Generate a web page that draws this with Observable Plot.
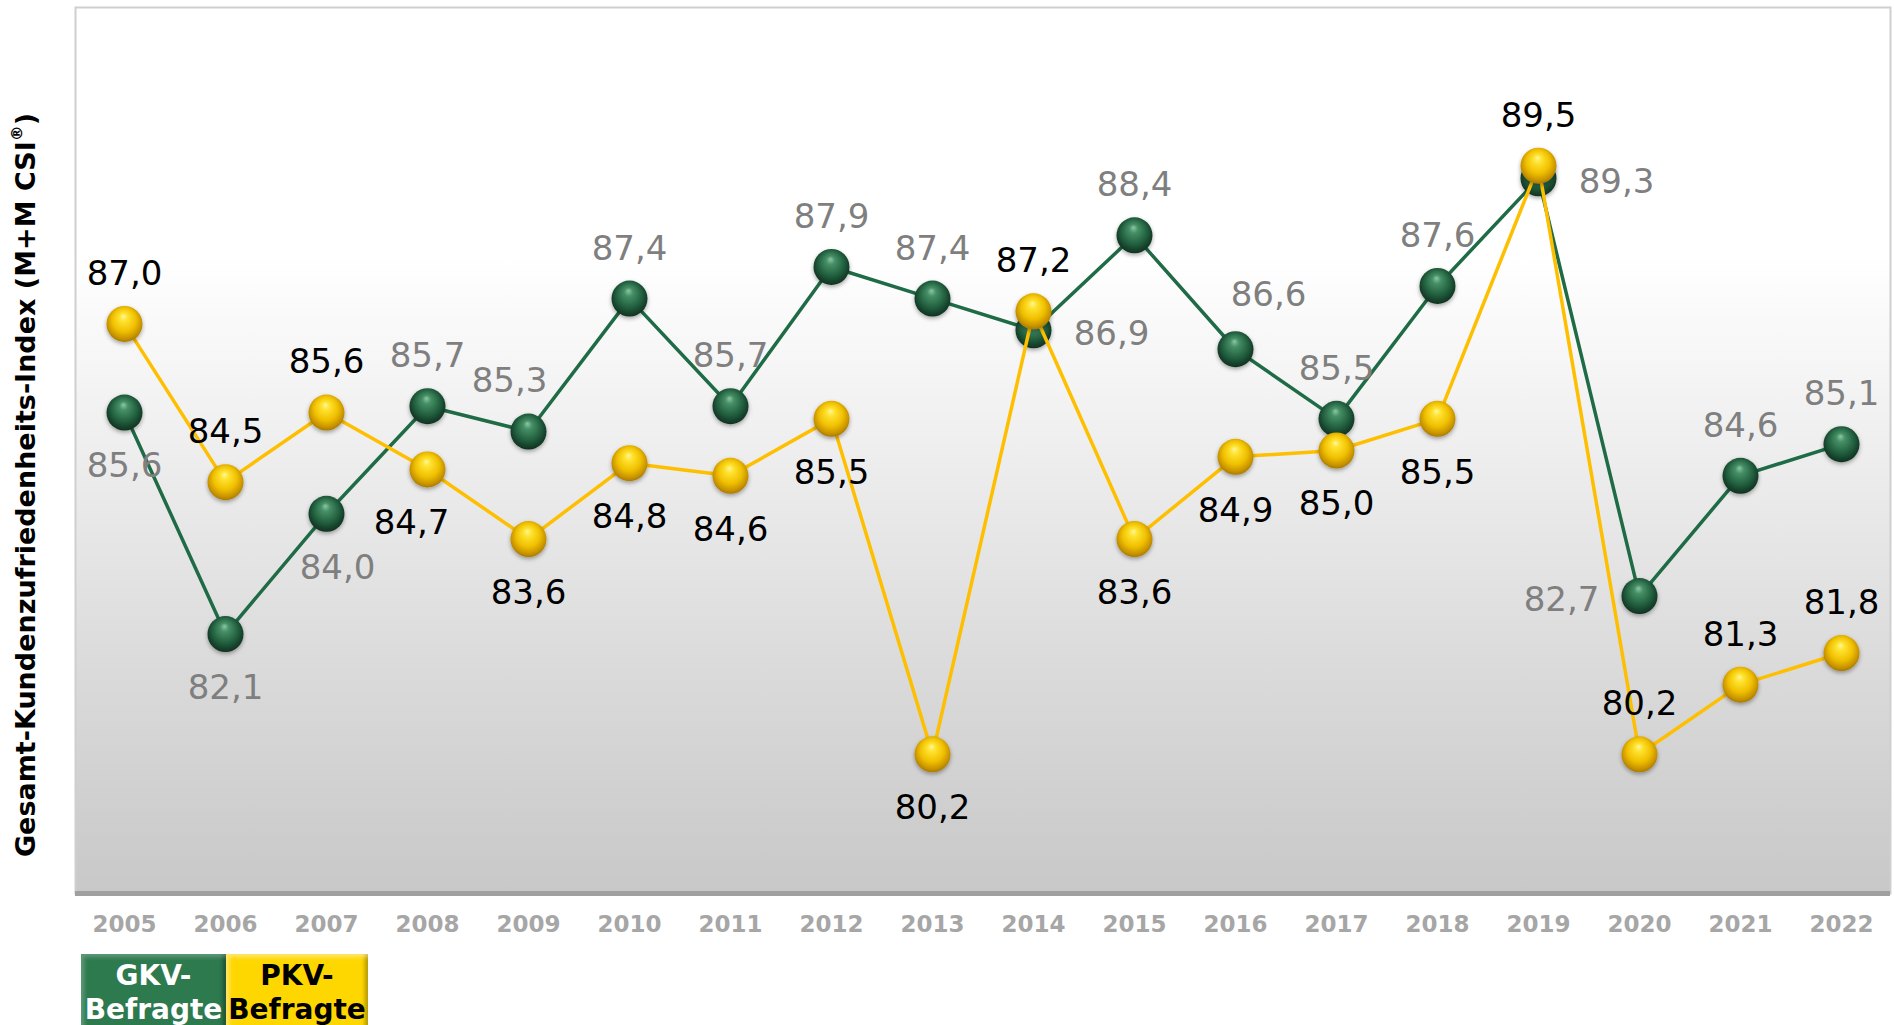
<!DOCTYPE html>
<html><head><meta charset="utf-8">
<script src="https://cdn.jsdelivr.net/npm/d3@7"></script>
<script src="https://cdn.jsdelivr.net/npm/@observablehq/plot@0.6"></script>
<style>
body{margin:0;background:#fff;font-family:"DejaVu Sans",sans-serif;}
#wrap{position:relative;width:1894px;height:1025px;overflow:hidden;}
#chart{position:absolute;left:0;top:0;}
#legend{position:absolute;left:81px;top:954px;display:flex;}
.lg{height:90px;font-weight:bold;font-size:28px;line-height:34px;text-align:center;padding-top:5px;box-sizing:border-box;white-space:nowrap;}
.gkv{width:145px;background:#2d7a4f;color:#fff;box-shadow:inset 3px 3px 4px rgba(255,255,255,.25), inset -3px -3px 4px rgba(0,0,0,.35);}
.pkv{width:142px;background:#ffd700;color:#000;box-shadow:inset 3px 3px 4px rgba(255,255,255,.45), inset -3px -3px 4px rgba(0,0,0,.3);}
</style>
</head><body>
<div id="wrap"><div id="chart"></div><div id="legend"></div></div>
<script>
const years = ["2005","2006","2007","2008","2009","2010","2011","2012","2013","2014","2015","2016","2017","2018","2019","2020","2021","2022"];
const gkvValues = [85.6,82.1,84.0,85.7,85.3,87.4,85.7,87.9,87.4,86.9,88.4,86.6,85.5,87.6,89.3,82.7,84.6,85.1];
const pkvValues = [87.0,84.5,85.6,84.7,83.6,84.8,84.6,85.5,80.2,87.2,83.6,84.9,85.0,85.5,89.5,80.2,81.3,81.8];
const gkvLabelPlacement = ["below","below","belowRight","above","aboveLeft","above","above","above","above","right","above","aboveRight","above","above","right","left","above","above"];
const pkvLabelPlacement = ["above","above","above","belowLeft","below","below","below","below","below","above","below","below","below","below","above","above","above","above"];
const seriesLabels = [["GKV-","Befragte"],["PKV-","Befragte"]];
const yTitleMain = "Gesamt-Kundenzufriedenheits-Index (M+M CSI";
const yTitleSup = "®";
const yTitleEnd = ")";

const fmt = v => v.toFixed(1).replace(".", ",");
const gkv = years.map((y,i)=>({year:y, value:gkvValues[i], place:gkvLabelPlacement[i]}));
const pkv = years.map((y,i)=>({year:y, value:pkvValues[i], place:pkvLabelPlacement[i]}));

const offsets = {
  above:{dx:0,dy:-50}, below:{dx:0,dy:54}, right:{dx:78,dy:4}, left:{dx:-78,dy:4},
  aboveLeft:{dx:-19,dy:-50}, aboveRight:{dx:33,dy:-54}, belowLeft:{dx:-16,dy:54}, belowRight:{dx:11,dy:54}
};
function labelMarks(data, fill){
  return Object.entries(offsets).map(([k,o]) => Plot.text(data.filter(d=>d.place===k), {
    x:"year", y:"value", text:d=>fmt(d.value), dx:o.dx, dy:o.dy, fill, fontSize:34
  }));
}

const chart = Plot.plot({
  width:1894, height:950, marginLeft:75, marginRight:4, marginTop:7, marginBottom:57,
  x:{type:"point", domain:years, padding:0.485, axis:null, label:null},
  y:{domain:[78,92], axis:null},
  style:{fontFamily:"DejaVu Sans, sans-serif", background:"transparent", overflow:"visible"},
  marks:[
    Plot.frame({fill:"url(#bgGrad)", stroke:"#cfcfcf", strokeWidth:2}),
    Plot.ruleY([78], {stroke:"#a0a0a0", strokeWidth:5}),
    Plot.axisX({tickSize:0, tickPadding:22, fontSize:23, fontWeight:"bold", color:"#a6a6a6", label:null}),
    Plot.line(gkv, {x:"year", y:"value", stroke:"#1f6b45", strokeWidth:3.5}),
    Plot.dot(gkv, {x:"year", y:"value", r:18, fill:"url(#gGreen)", stroke:null}),
    Plot.line(pkv, {x:"year", y:"value", stroke:"#fdbf00", strokeWidth:3.5}),
    Plot.dot(pkv, {x:"year", y:"value", r:18, fill:"url(#gYellow)", stroke:null}),
    ...labelMarks(gkv, "#7f7f7f"),
    ...labelMarks(pkv, "#000000")
  ]
});
document.getElementById("chart").appendChild(chart);

const svg = d3.select(chart);
const defs = svg.insert("defs", ":first-child");
const bg = defs.append("linearGradient").attr("id","bgGrad").attr("x1",0).attr("y1",0).attr("x2",0).attr("y2",1);
[[0,"#ffffff"],[0.28,"#ffffff"],[0.5,"#eeeeee"],[0.75,"#dadada"],[1,"#c8c8c8"]].forEach(([o,c])=>bg.append("stop").attr("offset",o).attr("stop-color",c));
const gg = defs.append("radialGradient").attr("id","gGreen").attr("cx",0.5).attr("cy",0.45).attr("r",0.55).attr("fx",0.47).attr("fy",0.28);
[[0,"#8cc7a3"],[0.22,"#468f66"],[0.65,"#22603f"],[1,"#0f3020"]].forEach(([o,c])=>gg.append("stop").attr("offset",o).attr("stop-color",c));
const gy = defs.append("radialGradient").attr("id","gYellow").attr("cx",0.5).attr("cy",0.45).attr("r",0.55).attr("fx",0.47).attr("fy",0.28);
[[0,"#fff6a0"],[0.2,"#ffe330"],[0.6,"#f0c000"],[0.88,"#c79200"],[1,"#a87a00"]].forEach(([o,c])=>gy.append("stop").attr("offset",o).attr("stop-color",c));
const f = defs.append("filter").attr("id","sh").attr("x","-50%").attr("y","-50%").attr("width","200%").attr("height","200%");
f.append("feDropShadow").attr("dx",0).attr("dy",2).attr("stdDeviation",2).attr("flood-color","#000").attr("flood-opacity",0.35);
svg.selectAll("g[aria-label=dot] circle").attr("filter","url(#sh)");

const t = svg.append("text").attr("transform","translate(27,485) rotate(-90)")
  .attr("text-anchor","middle").attr("font-weight","bold").attr("font-size",27)
  .attr("font-family","DejaVu Sans, sans-serif").attr("fill","#000").attr("dominant-baseline","middle");
t.append("tspan").text(yTitleMain);
t.append("tspan").attr("font-size",16).attr("dy",-10).text(yTitleSup);
t.append("tspan").attr("dy",10).text(yTitleEnd);

const legend = d3.select("#legend");
["gkv","pkv"].forEach((cls,i)=>{
  const b = legend.append("div").attr("class","lg "+cls);
  b.append("div").text(seriesLabels[i][0]);
  b.append("div").text(seriesLabels[i][1]);
});
</script>
</body></html>
